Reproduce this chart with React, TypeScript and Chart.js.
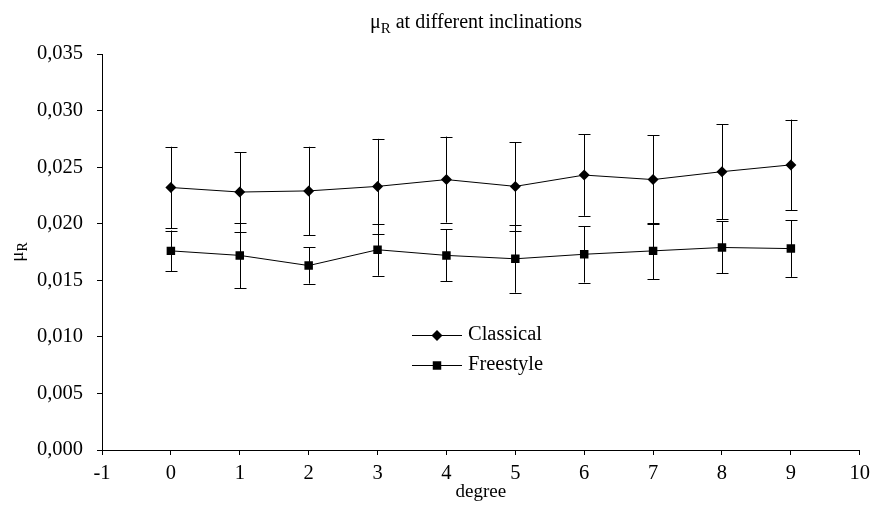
import React, { useEffect, useRef } from "react";
import { Chart, registerables } from "chart.js";

Chart.register(...registerables);

const degrees = [0, 1, 2, 3, 4, 5, 6, 7, 8, 9];
const classical = [0.0232, 0.0228, 0.0229, 0.0233, 0.0239, 0.0233, 0.0243, 0.0239, 0.0246, 0.0252];
const classicalErr = [0.0036, 0.0035, 0.0039, 0.0042, 0.0038, 0.0039, 0.0036, 0.0039, 0.0042, 0.0040];
const freestyle = [0.0176, 0.0172, 0.0163, 0.0177, 0.0172, 0.0169, 0.0173, 0.0176, 0.0179, 0.0178];
const freestyleErr = [0.0018, 0.0029, 0.0016, 0.0023, 0.0023, 0.0030, 0.0025, 0.0025, 0.0023, 0.0025];
const seriesNames = ["Classical", "Freestyle"];
const titleMain = "μ";
const titleSub = "R";
const titleRest = " at different inclinations";
const xTitle = "degree";

const FONT = '"Liberation Serif", "Times New Roman", serif';

function drawMarker(ctx: CanvasRenderingContext2D, style: string, x: number, y: number, r: number) {
  ctx.beginPath();
  if (style === "rectRot") {
    ctx.moveTo(x, y - r);
    ctx.lineTo(x + r, y);
    ctx.lineTo(x, y + r);
    ctx.lineTo(x - r, y);
    ctx.closePath();
  } else {
    const s = Math.SQRT1_2 * r;
    ctx.rect(x - s, y - s, 2 * s, 2 * s);
  }
  ctx.fill();
}

const errorBars = {
  id: "errorBars",
  beforeDatasetsDraw(chart: any) {
    const { ctx, scales } = chart;
    const errs = [classicalErr, freestyleErr];
    ctx.save();
    ctx.strokeStyle = "#000";
    ctx.lineWidth = 1;
    chart.data.datasets.forEach((ds: any, di: number) => {
      ds.data.forEach((p: any, i: number) => {
        const x = Math.round(scales.x.getPixelForValue(p.x)) + 0.5;
        const yt = scales.y.getPixelForValue(p.y + errs[di][i]);
        const yb = scales.y.getPixelForValue(p.y - errs[di][i]);
        ctx.beginPath();
        ctx.moveTo(x, yt);
        ctx.lineTo(x, yb);
        ctx.moveTo(x - 6, Math.round(yt) + 0.5);
        ctx.lineTo(x + 6, Math.round(yt) + 0.5);
        ctx.moveTo(x - 6, Math.round(yb) + 0.5);
        ctx.lineTo(x + 6, Math.round(yb) + 0.5);
        ctx.stroke();
      });
    });
    ctx.restore();
  },
};

const texts = {
  id: "texts",
  afterDraw(chart: any) {
    const { ctx, chartArea } = chart;
    ctx.save();
    ctx.fillStyle = "#000";
    // title
    const f1 = "20px " + FONT;
    const f2 = "15px " + FONT;
    ctx.font = f1;
    const w1 = ctx.measureText(titleMain).width;
    const w3 = ctx.measureText(titleRest).width;
    ctx.font = f2;
    const w2 = ctx.measureText(titleSub).width;
    const total = w1 + w2 + w3;
    const tx = 476 - total / 2;
    const by = 28;
    ctx.textBaseline = "alphabetic";
    ctx.textAlign = "left";
    ctx.font = f1;
    ctx.fillText(titleMain, tx, by);
    ctx.font = f2;
    ctx.fillText(titleSub, tx + w1, by + 5);
    ctx.font = f1;
    ctx.fillText(titleRest, tx + w1 + w2, by);

    // y title
    ctx.save();
    const cy = (chartArea.top + chartArea.bottom) / 2;
    ctx.translate(23, cy);
    ctx.rotate(-Math.PI / 2);
    const g1 = "19px " + FONT;
    const g2 = "14px " + FONT;
    ctx.font = g1;
    const a1 = ctx.measureText(titleMain).width;
    ctx.font = g2;
    const a2 = ctx.measureText(titleSub).width;
    const sx = -(a1 + a2) / 2;
    ctx.font = g1;
    ctx.fillText(titleMain, sx, 0);
    ctx.font = g2;
    ctx.fillText(titleSub, sx + a1, 4);
    ctx.restore();

    // x title
    ctx.font = "19px " + FONT;
    ctx.textAlign = "center";
    ctx.textBaseline = "middle";
    ctx.fillText(xTitle, (chartArea.left + chartArea.right) / 2, 492);

    // legend
    const lx = 412;
    const rows = [335, 365];
    const styles = ["rectRot", "rect"];
    const radii = [5.5, 6];
    rows.forEach((ry, i) => {
      ctx.strokeStyle = "#000";
      ctx.lineWidth = 1;
      ctx.beginPath();
      ctx.moveTo(lx, ry + 0.5);
      ctx.lineTo(lx + 50, ry + 0.5);
      ctx.stroke();
      ctx.fillStyle = "#000";
      drawMarker(ctx, styles[i], lx + 25, ry + 0.5, radii[i]);
      ctx.font = "20.5px " + FONT;
      ctx.textAlign = "left";
      ctx.textBaseline = "middle";
      ctx.fillText(seriesNames[i], lx + 56, ry);
    });
    ctx.restore();
  },
};

export default function App() {
  const ref = useRef<HTMLCanvasElement>(null);
  useEffect(() => {
    document.body.style.margin = "0";
    const chart = new Chart(ref.current!, {
      type: "line",
      data: {
        datasets: [
          {
            label: seriesNames[0],
            data: degrees.map((d, i) => ({ x: d, y: classical[i] })),
            borderColor: "#000",
            backgroundColor: "#000",
            borderWidth: 1,
            pointStyle: "rectRot",
            pointRadius: 5.5,
            pointBorderWidth: 0,
            tension: 0,
          },
          {
            label: seriesNames[1],
            data: degrees.map((d, i) => ({ x: d, y: freestyle[i] })),
            borderColor: "#000",
            backgroundColor: "#000",
            borderWidth: 1,
            pointStyle: "rect",
            pointRadius: 6,
            pointBorderWidth: 0,
            tension: 0,
          },
        ],
      },
      options: {
        animation: false,
        responsive: false,
        maintainAspectRatio: false,
        layout: { padding: { top: 54, right: 13, bottom: 0, left: 0 } },
        plugins: {
          legend: { display: false },
          title: { display: false },
          tooltip: { enabled: false },
        },
        scales: {
          x: {
            type: "linear",
            min: -1,
            max: 10,
            ticks: {
              stepSize: 1,
              color: "#000",
              font: { family: FONT, size: 20.5 },
              padding: 6,
              maxRotation: 0,
            },
            grid: { drawOnChartArea: false, drawTicks: true, tickLength: 5, color: "#000" },
            border: { color: "#000", width: 1 },
            afterFit(scale: any) {
              scale.height = 61;
            },
          },
          y: {
            type: "linear",
            min: 0,
            max: 0.035,
            ticks: {
              stepSize: 0.005,
              color: "#000",
              font: { family: FONT, size: 20.5 },
              padding: 14,
              callback: (v: any) => Number(v).toFixed(3).replace(".", ","),
            },
            grid: { drawOnChartArea: false, drawTicks: true, tickLength: 5, color: "#000" },
            border: { color: "#000", width: 1 },
            afterFit(scale: any) {
              scale.width = 102;
            },
          },
        },
      },
      plugins: [errorBars, texts],
    });
    return () => chart.destroy();
  }, []);
  return (
    <div style={{ width: 876, height: 511, background: "#fff" }}>
      <canvas ref={ref} width={876} height={511} style={{ display: "block" }} />
    </div>
  );
}
